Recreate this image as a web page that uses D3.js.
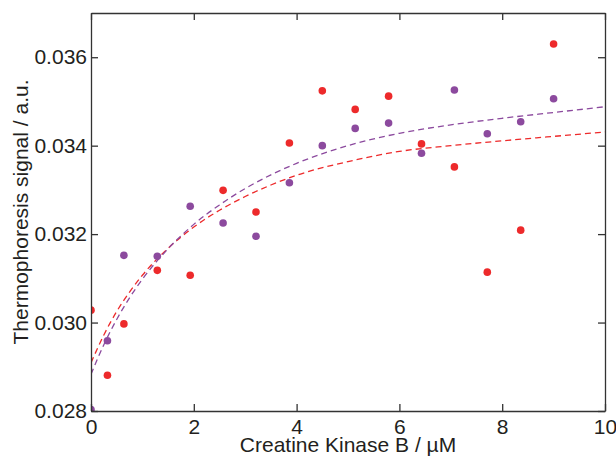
<!DOCTYPE html>
<meta charset="utf-8" />

<!-- Load d3.js -->
<script src="https://d3js.org/d3.v7.min.js"></script>
<style>
  body { margin: 0; background: #fff; }
  text { font-family: "Liberation Sans", Arial, sans-serif; fill: #231f20; }
</style>
<body>
  <!-- Create a div where the graph will take place -->
  <div id="my_dataviz"></div>
</body>
<script>
  // concentrations of Creatine Kinase B (uM)
  var conc = [0, 0.32, 0.64, 1.29, 1.93, 2.57, 3.21, 3.86, 4.5, 5.14, 5.79, 6.43, 7.07, 7.71, 8.36, 9.0];

  // measured thermophoresis signal, two series
  var redSignal = [0.03028, 0.02881, 0.02997, 0.03118, 0.03107, 0.03299, 0.03250, 0.03406,
    0.03524, 0.03482, 0.03512, 0.03404, 0.03352, 0.03114, 0.03209, 0.03630];
  var purpleSignal = [0.02803, 0.02959, 0.03152, 0.03150, 0.03263, 0.03225, 0.03195, 0.03316,
    0.03400, 0.03439, 0.03451, 0.03383, 0.03526, 0.03427, 0.03454, 0.03506];

  // fitted curves
  var fitX = [0, 0.25, 0.5, 0.75, 1, 1.5, 2, 2.5, 3, 3.5, 4, 5, 6, 7, 8, 9, 10];
  var redFit = [0.02909, 0.02972, 0.03025, 0.03069, 0.03107, 0.03168, 0.03216, 0.03254, 0.03285,
    0.03311, 0.03333, 0.03364, 0.03387, 0.03400, 0.03411, 0.03421, 0.03431];
  var purpleFit = [0.02883, 0.02950, 0.03007, 0.03056, 0.03098, 0.03167, 0.03222, 0.03266, 0.03303,
    0.03334, 0.03360, 0.03400, 0.03428, 0.03447, 0.03462, 0.03475, 0.03488];

  // axis ticks
  var xTicks = [0, 2, 4, 6, 8, 10];
  var yTicks = [0.028, 0.030, 0.032, 0.034, 0.036];

  var redColor = "#ed2a2b",
    purpleColor = "#8c4a9e";

  // set the dimensions and margins of the graph
  var margin = { top: 13, right: 11, bottom: 46, left: 91 },
    width = 616 - margin.left - margin.right,
    height = 457 - margin.top - margin.bottom;

  var svg = d3
    .select("#my_dataviz")
    .append("svg")
    .attr("width", 616)
    .attr("height", 457)
    .append("g")
    .attr("transform", "translate(" + margin.left + "," + margin.top + ")");

  var x = d3.scaleLinear().domain([0, 10]).range([0, width]);
  var y = d3.scaleLinear().domain([0.028, 0.037]).range([height, 0]);

  // clip marks to the plot box
  svg
    .append("clipPath")
    .attr("id", "plotClip")
    .append("rect")
    .attr("width", width)
    .attr("height", height);

  var plot = svg.append("g").attr("clip-path", "url(#plotClip)");

  // dashed fit lines
  var line = d3
    .line()
    .x(function (d) { return x(d[0]); })
    .y(function (d) { return y(d[1]); })
    .curve(d3.curveMonotoneX);

  var fits = [
    { values: redFit, color: redColor },
    { values: purpleFit, color: purpleColor },
  ];

  plot
    .selectAll(".fit")
    .data(fits)
    .enter()
    .append("path")
    .attr("class", "fit")
    .attr("d", function (f) {
      return line(fitX.map(function (c, i) { return [c, f.values[i]]; }));
    })
    .attr("fill", "none")
    .attr("stroke", function (f) { return f.color; })
    .attr("stroke-width", 1.3)
    .attr("stroke-dasharray", "6,4");

  // data points
  var series = [
    { values: redSignal, color: redColor },
    { values: purpleSignal, color: purpleColor },
  ];

  series.forEach(function (s) {
    plot
      .append("g")
      .selectAll("circle")
      .data(conc)
      .enter()
      .append("circle")
      .attr("cx", function (d) { return x(d); })
      .attr("cy", function (d, i) { return y(s.values[i]); })
      .attr("r", 3.8)
      .attr("fill", s.color);
  });

  // axes, ticks pointing inwards on all four sides
  var fontSize = "21px";

  var xAxis = svg
    .append("g")
    .attr("transform", "translate(0," + height + ")")
    .call(d3.axisBottom(x).tickValues(xTicks).tickSize(-7).tickSizeOuter(0).tickPadding(8));

  var yAxis = svg
    .append("g")
    .call(
      d3.axisLeft(y).tickValues(yTicks).tickFormat(d3.format(".3f"))
        .tickSize(-7).tickSizeOuter(0).tickPadding(4)
    );

  svg
    .append("g")
    .call(d3.axisTop(x).tickValues(xTicks).tickSize(-7).tickSizeOuter(0).tickFormat(""));

  svg
    .append("g")
    .attr("transform", "translate(" + width + ",0)")
    .call(d3.axisRight(y).tickValues(yTicks).tickSize(-7).tickSizeOuter(0).tickFormat(""));

  svg.selectAll(".domain, .tick line").attr("stroke", "#333").attr("stroke-width", 1.3);
  svg
    .selectAll(".tick text")
    .style("font-family", "'Liberation Sans', Arial, sans-serif")
    .style("font-size", fontSize)
    .attr("fill", "#231f20");

  // axis titles
  svg
    .append("text")
    .attr("x", width / 2)
    .attr("y", height + 41)
    .attr("text-anchor", "middle")
    .style("font-size", fontSize)
    .text("Creatine Kinase B / \u00b5M");

  svg
    .append("text")
    .attr("transform", "translate(" + (28 - margin.left) + "," + height / 2 + ") rotate(-90)")
    .attr("text-anchor", "middle")
    .style("font-size", fontSize)
    .text("Thermophoresis signal / a.u.");
</script>
